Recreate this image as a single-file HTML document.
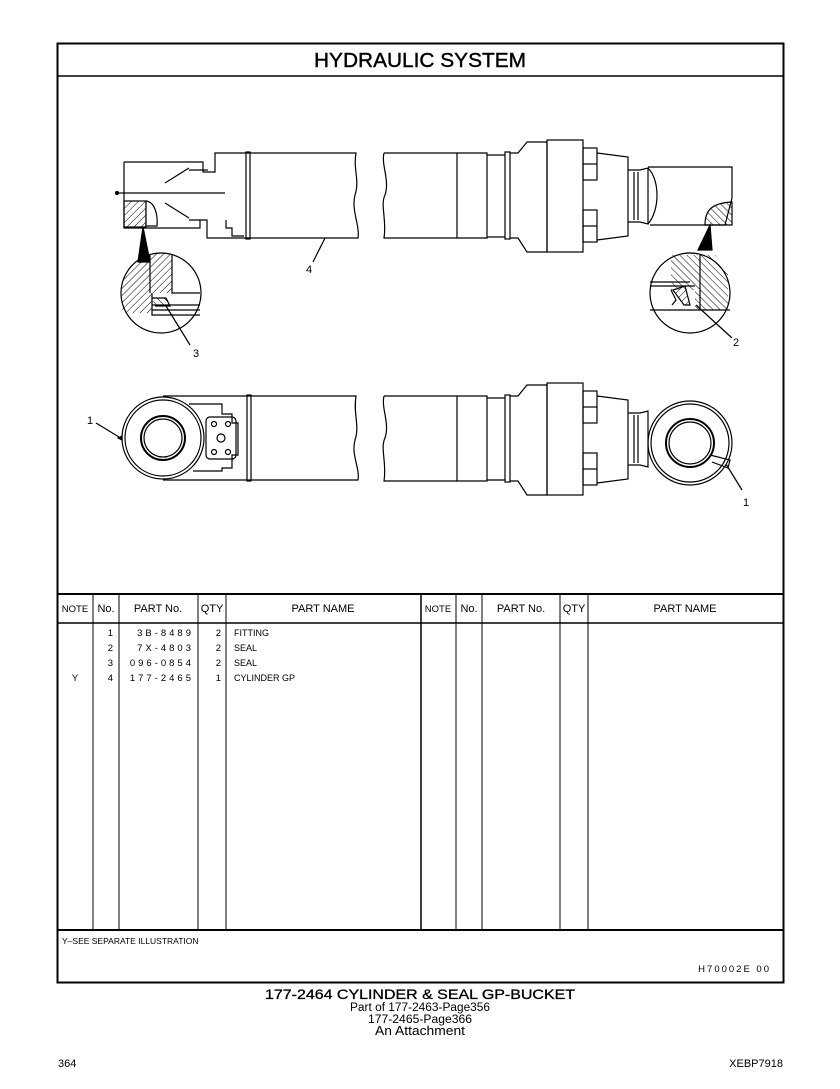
<!DOCTYPE html>
<html><head><meta charset="utf-8"><style>
html,body{margin:0;padding:0;background:#fff;}
svg{display:block;font-family:"Liberation Sans",Arial,sans-serif;}
</style></head><body>
<svg width="840" height="1089" viewBox="0 0 840 1089" xmlns="http://www.w3.org/2000/svg" xml:space="preserve">
<defs>
<pattern id="h1" width="5" height="5" patternUnits="userSpaceOnUse" patternTransform="rotate(45)"><line x1="0" y1="0" x2="0" y2="5" stroke="#000" stroke-width="1"/></pattern>
<pattern id="h2" width="5" height="5" patternUnits="userSpaceOnUse" patternTransform="rotate(-45)"><line x1="0" y1="0" x2="0" y2="5" stroke="#000" stroke-width="1"/></pattern>
</defs>
<rect width="840" height="1089" fill="#fff"/>
<rect x="57.5" y="43.5" width="726" height="939" fill="none" stroke="#000" stroke-width="2"/>
<line x1="57" y1="76" x2="783" y2="76" stroke="#000" stroke-width="1.5"/>
<text x="420" y="67" font-size="20" text-anchor="middle" textLength="212" lengthAdjust="spacingAndGlyphs" stroke="#000" stroke-width="0.4">HYDRAULIC  SYSTEM</text>

<g fill="none" stroke="#000" stroke-width="1.2">
<path d="M124 162 H203 V172 H215 V153 H250 M124 162 V228 H200 V220 H207 V238 H250"/>
<line x1="124" y1="193" x2="225" y2="193"/>
<line x1="165" y1="183" x2="189" y2="168"/><line x1="165" y1="203" x2="189" y2="218"/>
<path d="M189 170 H208 M189 220 H200"/>
<path d="M226 220 V228 H232 V236 H244"/>
<rect x="246" y="152" width="4" height="87"/>
<path d="M250 153 H356 C353 170 360 180 355 195 C351 210 360 225 358 238 H250"/>
<rect x="124" y="201" width="22" height="26" fill="url(#h1)"/>
<path d="M146 201 C155 202 158 215 157 226 H146 Z" fill="#fff"/>
<line x1="118" y1="193" x2="124" y2="193"/><circle cx="117" cy="193" r="1.5" fill="#000"/>
<path d="M143 227 L150 262 L138 262 Z" fill="#000"/>
<circle cx="161" cy="293" r="40"/>
<path d="M122 285 A40 40 0 0 1 150 254 H172 V293 H152 V313 H122" fill="url(#h1)" stroke="none"/>
<path d="M150 254 V293 M172 254 V293 H200 M152 293 V315 H200 M152 305 H200 M152 310 H200"/>
<path d="M152 298 L166 298 L170 306 L155 306" fill="url(#h2)"/>
<line x1="166" y1="306" x2="190" y2="345"/>
<line x1="325" y1="238" x2="313" y2="262"/>

<path d="M384 153 H457 V238 H384 C387 220 380 205 385 195 C390 180 381 165 384 153"/>
<path d="M457 153 H487 V238 H457 M487 155 H505 M487 237 H505"/>
<rect x="505" y="152" width="5" height="87"/>
<path d="M510 153 H518 L527 142 H547 V252 H527 L518 238 H510"/>
<rect x="547" y="140" width="36" height="112"/>
<rect x="583" y="148" width="14" height="32"/><line x1="583" y1="164" x2="597" y2="164"/>
<rect x="583" y="210" width="14" height="32"/><line x1="583" y1="226" x2="597" y2="226"/>
<path d="M597 153 L628 157 V236 L597 240"/>
<path d="M628 170 H640 L648 168 V224 L640 222 H628 M634 172 V220 M638 172 V220"/>
<path d="M648 168 C660 180 660 210 648 224"/>
<path d="M648 167 H732 V198 L725 225 H650"/>
<path d="M705 225 C705 210 712 203 732 202 V225 Z" fill="url(#h2)"/>
<path d="M710 225 L698 250 L712 250 Z" fill="#000"/>
<circle cx="690" cy="293" r="40"/>
<path d="M671 255 H715 L728 270 V310 H695 V290 H671 Z" fill="url(#h2)" stroke="none"/>
<path d="M700 255 V310 M650 286 H695 M650 282 H690 M650 310 H730 M671 290 L676 300 L672 305"/>
<path d="M673 290 L685 286 L690 305 L684 305 Z" fill="url(#h1)"/>
<line x1="696" y1="305" x2="732" y2="338"/>

<circle cx="163" cy="438" r="41"/><circle cx="163" cy="438" r="38"/>
<circle cx="163" cy="438" r="22" stroke-width="2"/><circle cx="163" cy="438" r="19"/>
<path d="M189 404 H222 V414 H232 V423 H238 V455 H232 V468 H222 V471 H193"/>
<rect x="206" y="417" width="30" height="42" rx="4"/>
<circle cx="214" cy="424" r="2.5"/><circle cx="228" cy="424" r="2.5"/><circle cx="214" cy="452" r="2.5"/><circle cx="228" cy="452" r="2.5"/><circle cx="221" cy="438" r="4"/>
<path d="M163 396 H356 C353 415 360 425 355 440 C351 455 360 468 358 480 H163"/>
<rect x="247" y="395" width="4" height="86"/>
<path d="M122 436 L118 438 L122 440 Z" fill="#000"/>
<line x1="119" y1="437" x2="96" y2="423"/>

<path d="M384 396 H457 V481 H384 C387 463 380 448 385 438 C390 423 381 408 384 396"/>
<path d="M457 396 H487 V481 H457 M487 398 H505 M487 480 H505"/>
<rect x="505" y="395" width="5" height="87"/>
<path d="M510 396 H518 L527 385 H547 V495 H527 L518 481 H510"/>
<rect x="547" y="383" width="36" height="112"/>
<rect x="583" y="391" width="14" height="32"/><line x1="583" y1="407" x2="597" y2="407"/>
<rect x="583" y="453" width="14" height="32"/><line x1="583" y1="469" x2="597" y2="469"/>
<path d="M597 396 L628 400 V479 L597 483"/>
<path d="M628 413 H640 L648 411 V467 L640 465 H628 M634 415 V463 M638 415 V463"/>
<circle cx="690" cy="443" r="42"/><circle cx="690" cy="443" r="39"/>
<circle cx="690" cy="443" r="24" stroke-width="2"/><circle cx="690" cy="443" r="21"/>
<path d="M710 455 L730 460 L728 468 L712 462"/>
<line x1="726" y1="464" x2="742" y2="490"/>
</g>
<g font-size="11" text-anchor="middle">
<text x="196" y="357">3</text><text x="309" y="273">4</text><text x="736" y="346">2</text>
<text x="90" y="424">1</text><text x="746" y="506">1</text>
</g>

<g stroke="#000" fill="none">
<line x1="57" y1="594" x2="783" y2="594" stroke-width="2"/>
<line x1="57" y1="623" x2="783" y2="623" stroke-width="1.5"/>
<line x1="57" y1="930" x2="783" y2="930" stroke-width="2"/>
<line x1="421" y1="594" x2="421" y2="930" stroke-width="1.5"/>
<g stroke-width="1">
<line x1="93" y1="594" x2="93" y2="930"/><line x1="119" y1="594" x2="119" y2="930"/>
<line x1="198" y1="594" x2="198" y2="930"/><line x1="226" y1="594" x2="226" y2="930"/>
<line x1="456" y1="594" x2="456" y2="930"/><line x1="482" y1="594" x2="482" y2="930"/>
<line x1="560" y1="594" x2="560" y2="930"/><line x1="588" y1="594" x2="588" y2="930"/>
</g>
</g>
<g font-size="11" text-anchor="middle">
<text x="75" y="612" font-size="9.5">NOTE</text><text x="106" y="612">No.</text><text x="158" y="612">PART No.</text><text x="212" y="612">QTY</text><text x="323" y="612">PART NAME</text>
<text x="438" y="612" font-size="9.5">NOTE</text><text x="469" y="612">No.</text><text x="521" y="612">PART No.</text><text x="574" y="612">QTY</text><text x="685" y="612">PART NAME</text>
</g>
<g font-size="9.5">
<g text-anchor="end"><text x="113" y="636">1</text><text x="113" y="651">2</text><text x="113" y="666">3</text><text x="113" y="681">4</text>
<text x="194" y="636" letter-spacing="3">3B-8489</text><text x="194" y="651" letter-spacing="3">7X-4803</text><text x="194" y="666" letter-spacing="3">096-0854</text><text x="194" y="681" letter-spacing="3">177-2465</text>
<text x="221" y="636">2</text><text x="221" y="651">2</text><text x="221" y="666">2</text><text x="221" y="681">1</text></g>
<text x="75" y="681" text-anchor="middle">Y</text>
<text x="234" y="636" font-size="9">FITTING</text><text x="234" y="651" font-size="9">SEAL</text><text x="234" y="666" font-size="9">SEAL</text><text x="234" y="681" font-size="9">CYLINDER GP</text>
<text x="62" y="944" font-size="8.5">Y–SEE SEPARATE ILLUSTRATION</text>
<text x="771" y="972" text-anchor="end" letter-spacing="2">H70002E   00</text>
</g>
<g text-anchor="middle">
<text x="420" y="999" font-size="14" textLength="310" lengthAdjust="spacingAndGlyphs" stroke="#000" stroke-width="0.3">177-2464  CYLINDER &amp; SEAL  GP-BUCKET</text>
<text x="420" y="1011" font-size="11.5" textLength="140" lengthAdjust="spacingAndGlyphs">Part of 177-2463-Page356</text>
<text x="420" y="1023" font-size="11.5" textLength="104" lengthAdjust="spacingAndGlyphs">177-2465-Page366</text>
<text x="420" y="1035" font-size="12.5" textLength="90" lengthAdjust="spacingAndGlyphs">An Attachment</text>
</g>
<text x="58" y="1067" font-size="11">364</text>
<text x="783" y="1067" font-size="11" text-anchor="end">XEBP7918</text>
</svg>
</body></html>
